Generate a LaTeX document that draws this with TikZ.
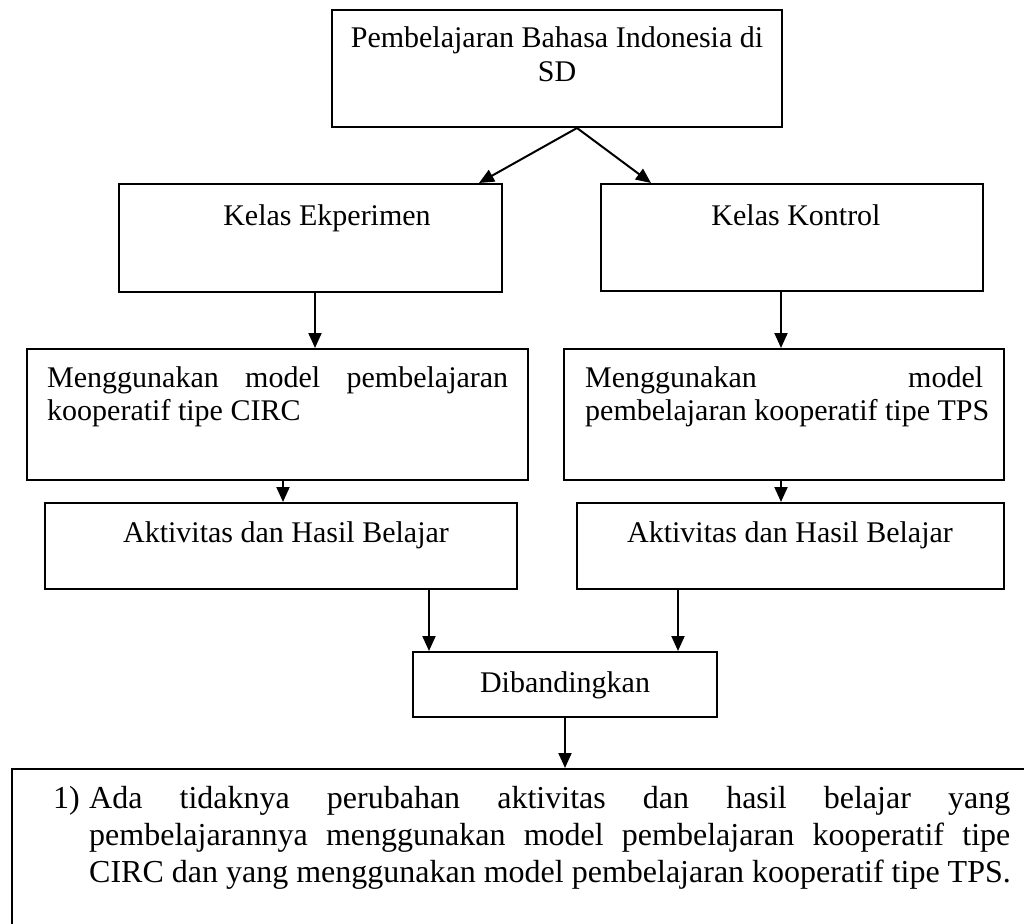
\documentclass[tikz,border=0pt]{standalone}
\usepackage{fontspec}
\setmainfont{Liberation Serif}
\usetikzlibrary{arrows.meta}
\begin{document}
\begin{tikzpicture}[x=1pt,y=-1pt,
  box/.style={draw, line width=2pt, inner sep=0pt, minimum width=#1},
  txt/.style={inner sep=0pt, anchor=base, font=\fontsize{30}{34}\selectfont},
  txtl/.style={inner sep=0pt, anchor=base west, font=\fontsize{30}{34}\selectfont},
  txtb/.style={inner sep=0pt, anchor=base west, font=\fontsize{32}{37}\selectfont},
  arr/.style={line width=2pt, -{Triangle[length=15pt,width=13pt]}}]
\useasboundingbox (0,0) rectangle (1024,923);
% boxes
\node[box=450pt, minimum height=117pt] (top) at (557,68.5) {};
\node[box=383pt, minimum height=108pt] (ke) at (310.5,238) {};
\node[box=382pt, minimum height=107pt] (kk) at (792,237.5) {};
\node[box=501pt, minimum height=131pt] (m1) at (277.5,414.5) {};
\node[box=440pt, minimum height=131pt] (m2) at (784,414.5) {};
\node[box=472pt, minimum height=86pt] (a1) at (281,546) {};
\node[box=427pt, minimum height=86pt] (a2) at (790.5,546) {};
\node[box=304pt, minimum height=65pt] (d) at (565,684.5) {};
\node[box=1028pt, minimum height=181pt] (r) at (526,859.5) {};
% texts
\node[txt] (t1) at (557,48) {Pembelajaran Bahasa Indonesia di};
\node[txt] (t2) at (557,82) {SD};
\node[txt] (tke) at (327,225) {Kelas Ekperimen};
\node[txt] (tkk) at (796,225) {Kelas Kontrol};
\node[txtl] (tm1a) at (47,387) {\makebox[461pt][s]{Menggunakan model pembelajaran}};
\node[txtl] (tm1b) at (47,420) {kooperatif tipe CIRC};
\node[txtl] (tm2a) at (585,387) {\makebox[398pt][s]{Menggunakan model}};
\node[txtl] (tm2b) at (585,420) {pembelajaran kooperatif tipe TPS};
\node[txt] (ta1) at (286,542) {Aktivitas dan Hasil Belajar};
\node[txt] (ta2) at (790,542) {Aktivitas dan Hasil Belajar};
\node[txt] (td) at (565,692) {Dibandingkan};
\node[txtb] (tr0) at (53,808) {1)};
\node[txtb] (tr1) at (89,808) {\makebox[921pt][s]{Ada tidaknya perubahan aktivitas dan hasil belajar yang}};
\node[txtb] (tr2) at (89,845) {\makebox[921pt][s]{pembelajarannya menggunakan model pembelajaran kooperatif tipe}};
\node[txtb] (tr3) at (89,882) {CIRC dan yang menggunakan model pembelajaran kooperatif tipe TPS.};
% connectors
\draw[arr] ([xshift=20pt]top.south) -- ([xshift=-24pt]ke.north east);
\draw[arr] ([xshift=20pt]top.south) -- ([xshift=51pt]kk.north west);
\draw[arr] ([xshift=4.5pt]ke.south) -- ([xshift=4.5pt]ke.south |- m1.north);
\draw[arr] ([xshift=-11pt]kk.south) -- ([xshift=-11pt]kk.south |- m2.north);
\draw[arr] ([xshift=5.5pt]m1.south) -- ([xshift=5.5pt]m1.south |- a1.north);
\draw[arr] ([xshift=-3pt]m2.south) -- ([xshift=-3pt]m2.south |- a2.north);
\draw[arr] ([xshift=17pt]d.north west |- a1.south) -- ([xshift=17pt]d.north west);
\draw[arr] ([xshift=-40pt]d.north east |- a2.south) -- ([xshift=-40pt]d.north east);
\draw[arr] (d.south) -- (d.south |- r.north);
\end{tikzpicture}
\end{document}
